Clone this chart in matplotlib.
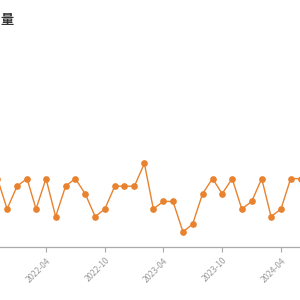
import matplotlib
matplotlib.use("Agg")
import matplotlib.pyplot as plt
import matplotlib.dates as mdates
import pandas as pd

plt.rcParams['font.family'] = ['Noto Sans CJK SC', 'DejaVu Sans']

months = pd.date_range("2021-11-01", "2024-06-01", freq="MS")
values = [9, 5, 8, 9, 5, 9, 4, 8, 9, 7, 4, 5,
          8, 8, 8, 11, 5, 6, 6, 2, 3, 7, 9, 7,
          9, 5, 6, 9, 4, 5, 9, 9]
tick_labels = ["2022-04", "2022-10", "2023-04", "2023-10", "2024-04"]
title = "量"

W = H = 300
fig = plt.figure(figsize=(3, 3), dpi=100)
fig.patch.set_facecolor("white")

ax_bottom_px = 300 - 247
ax = fig.add_axes([0, ax_bottom_px / H, 1, 1 - ax_bottom_px / H])

# x mapping: 2022-04-01 -> 46 px, 2024-04-01 -> 281 px
d0 = mdates.date2num(pd.Timestamp("2022-04-01"))
d1 = mdates.date2num(pd.Timestamp("2024-04-01"))
ppd = (281 - 46) / (d1 - d0)
ax.set_xlim(d0 - 46 / ppd, d0 + (300 - 46) / ppd)

step = 7.6
ax.set_ylim(0, (247) / step)

color = "#e8822e"
ax.plot(mdates.date2num(months), values, color=color, lw=1.0,
        marker="o", ms=3.8, markerfacecolor=color, markeredgecolor=color,
        clip_on=True, zorder=3)

for s in ["top", "right", "left"]:
    ax.spines[s].set_visible(False)
ax.spines["bottom"].set_color("#aaaaaa")
ax.spines["bottom"].set_linewidth(0.9)

ticks = [mdates.date2num(pd.Timestamp(t + "-01")) for t in tick_labels]
ax.set_xticks(ticks)
ax.set_xticklabels(tick_labels, rotation=45, ha="right", rotation_mode="anchor",
                   fontsize=6, color="#999999")
ax.tick_params(axis="x", length=3.5, width=0.8, color="#aaaaaa", pad=3)
ax.set_yticks([])

fig.text(0.5 / W, 1 - 20 / H, title, ha="left", va="center", fontsize=9.5,
         fontweight="bold", color="#333333")

fig.savefig("out.png", dpi=100, facecolor="white")
